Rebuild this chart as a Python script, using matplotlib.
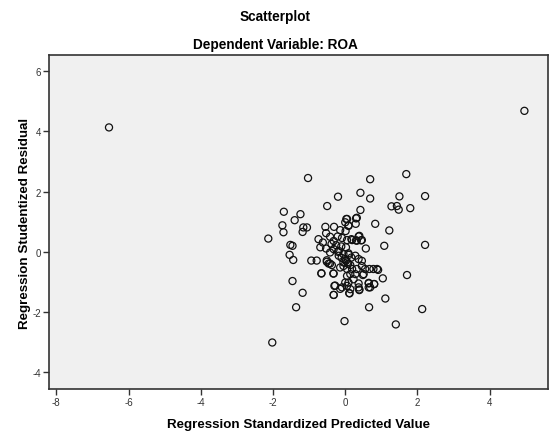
import matplotlib.pyplot as plt

# Regression Standardized Predicted Value / Studentized Residual
pred = [
    -6.54, 4.96, -2.02, -0.02, 1.40,
    -1.03, -0.20, -0.50, -1.70, -1.24, -1.40, -1.74, -1.71, -1.16, -1.06, -1.18,
    -2.13, -1.52, -1.46,
    0.69, 1.69, 0.42, 0.69, 1.50, 2.21, 1.28, 1.43, 1.48, 1.80,
    0.42, 0.32, 0.05, 0.29, 0.09, 0.83, 1.22, 0.39, 0.19, 0.32, 0.46, 1.08, 2.21, 0.57,
    -1.54, -1.44, -0.94, -0.79, -0.51, -0.42, -0.66, -0.33, -1.46, -0.28, -0.14,
    -1.18, -0.32, -1.36,
    0.91, 1.04, 1.71, 0.80, 0.65, 0.65, 0.37, 0.39, 0.11, 0.23, 1.11, 0.66, 2.13, 0.49,
    -0.55, -0.31, 0.03, 0.00, 0.30, 0.09, -0.14, 0.01, -0.53, -0.42, -0.74, -0.62,
    -0.69, -0.53, -0.32, -0.21, -0.09, 0.05, 0.17, 0.30, 0.44, 0.37, -0.38, -0.25,
    -0.11, 0.02, -0.32, -0.18, -0.42, -0.51, -0.46, -0.37, -0.18, -0.05, 0.09, 0.17,
    0.28, 0.37, 0.46, 0.00, 0.06, 0.14, -0.05, -0.14, 0.05, 0.19, 0.32, 0.46, 0.55,
    0.67, 0.78, 0.88, 0.28, 0.51, 0.05, 0.14, 0.00, 0.09, 0.05, -0.09, 0.14, 0.37,
    0.39, 0.65, 0.69, 0.80, -0.32, -0.66, -0.30, -0.32, 0.12, -0.10, 0.02, -0.05,
    0.10, -0.20, 0.08,
]
resid = [
    4.13, 4.68, -3.01, -2.30, -2.41,
    2.45, 1.83, 1.52, 1.33, 1.25, 1.05, 0.88, 0.65, 0.81, 0.81, 0.66,
    0.44, 0.23, 0.20,
    2.41, 2.58, 1.96, 1.77, 1.84, 1.85, 1.51, 1.52, 1.40, 1.45,
    1.39, 1.13, 1.09, 0.93, 0.88, 0.93, 0.71, 0.53, 0.39, 0.37, 0.39, 0.20, 0.23, 0.11,
    -0.10, -0.27, -0.29, -0.29, -0.33, -0.39, -0.71, -0.72, -0.97, -1.12, -1.23,
    -1.36, -1.43, -1.84,
    -0.60, -0.88, -0.77, -1.07, -1.03, -1.18, -1.05, -1.25, -1.37, -0.91, -1.55, -1.84, -1.90, -0.77,
    0.83, 0.83, 1.09, 0.98, 1.11, 0.86, 0.72, 0.69, 0.62, 0.50, 0.42, 0.31,
    0.15, 0.11, 0.36, 0.51, 0.46, 0.39, 0.42, 0.38, 0.38, 0.51, 0.26, 0.22,
    0.18, 0.15, 0.09, 0.03, -0.02, -0.28, -0.39, -0.44, -0.13, -0.08, -0.05, -0.19,
    -0.13, -0.24, -0.30, -0.24, -0.35, -0.44, -0.47, -0.52, -0.57, -0.57, -0.57, -0.47, -0.57,
    -0.57, -0.57, -0.57, -0.74, -0.74, -0.80, -0.74, -1.02, -1.02, -1.13, -1.18, -1.24, -1.18,
    -1.27, -1.05, -1.18, -1.07, -0.72, -0.72, -1.13, -1.43, -1.38, -0.20, -0.30, -0.35,
    -0.10, 0.00, -0.40,
]

plt.rcParams['font.family'] = ['Liberation Sans', 'DejaVu Sans']
plt.rcParams['axes.unicode_minus'] = False

fig = plt.figure(figsize=(5.51, 4.35), dpi=100)
ax = fig.add_axes([0.089, 0.103, 0.906, 0.768])
ax.set_facecolor('#f0f0f0')

ax.scatter(pred, resid, s=26, facecolors='none', edgecolors='#111111', linewidths=0.9)

ax.set_xlim(-8.2, 5.62)
ax.set_ylim(-4.56, 6.53)
ax.set_xticks([-8, -6, -4, -2, 0, 2, 4])
ax.set_yticks([-4, -2, 0, 2, 4, 6])
ax.tick_params(direction='out', length=4, width=1, labelsize=7, colors='#333333', pad=1.5)
for side in ['left', 'bottom', 'top', 'right']:
    ax.spines[side].set_color('#333333')
    ax.spines[side].set_linewidth(1.2)

ax.set_xlabel('Regression Standardized Predicted Value', fontsize=9.6, fontweight='bold', labelpad=8)
ax.set_ylabel('Regression Studentized Residual', fontsize=9.6, fontweight='bold', labelpad=1)

fig.text(0.5, 0.96, 'Scatterplot', ha='center', va='center', fontsize=9.8, fontweight='bold')
fig.text(0.5, 0.897, 'Dependent Variable: ROA', ha='center', va='center', fontsize=9.8, fontweight='bold')

fig.savefig('out.png', dpi=100)
